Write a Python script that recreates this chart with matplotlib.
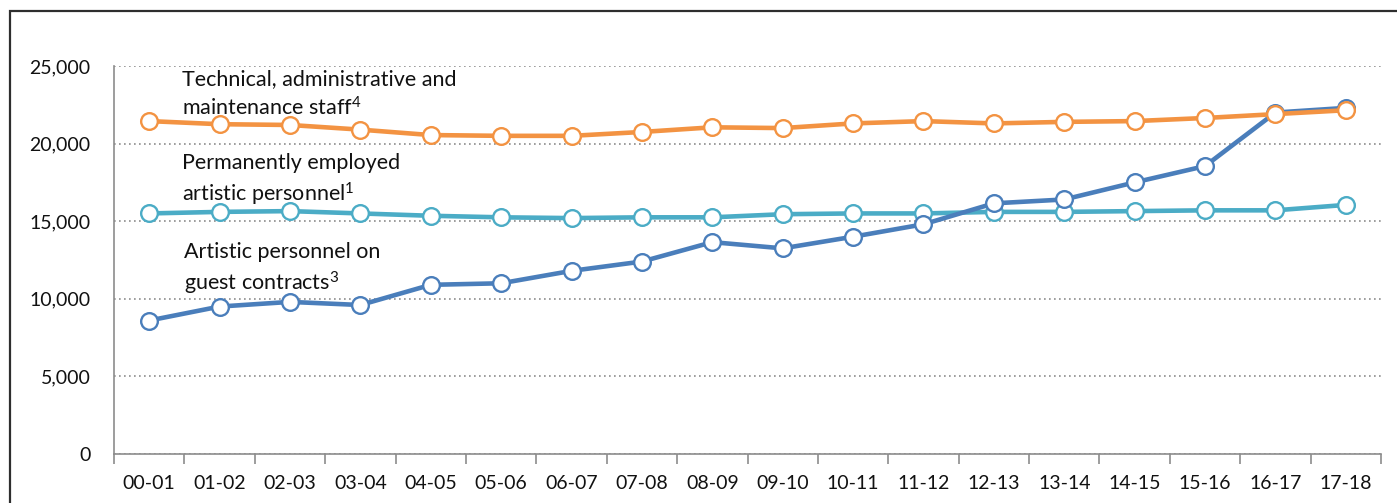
import matplotlib
matplotlib.use("Agg")
import matplotlib.pyplot as plt
import numpy as np
from matplotlib.patches import Rectangle

seasons = ["00-01", "01-02", "02-03", "03-04", "04-05", "05-06", "06-07", "07-08", "08-09",
           "09-10", "10-11", "11-12", "12-13", "13-14", "14-15", "15-16", "16-17", "17-18"]
guest_contracts = [8600, 9500, 9800, 9600, 10900, 11000, 11800, 12400, 13650,
                   13250, 14000, 14800, 16150, 16400, 17500, 18550, 22000, 22300]
technical_staff = [21450, 21250, 21200, 20900, 20550, 20500, 20500, 20750, 21050,
                   21000, 21300, 21450, 21300, 21400, 21450, 21650, 21900, 22150]
permanent_artistic = [15500, 15600, 15650, 15500, 15350, 15250, 15200, 15250, 15250,
                      15450, 15500, 15500, 15600, 15600, 15650, 15700, 15700, 16050]
y_ticks = [0, 5000, 10000, 15000, 20000, 25000]

FONT = ["Lato", "DejaVu Sans"]
plt.rcParams["font.family"] = FONT
plt.rcParams["mathtext.fontset"] = "custom"
plt.rcParams["mathtext.rm"] = "Lato"
plt.rcParams["mathtext.it"] = "Lato:italic"
plt.rcParams["mathtext.bf"] = "Lato:bold"
plt.rcParams["mathtext.default"] = "rm"

fig = plt.figure(figsize=(13.97, 5.03), dpi=100)
ax = fig.add_axes([114/1397, 1-454/503, (1381-114)/1397, (454-66)/503])

# outer frame (cropped at right and bottom)
fig.patches.append(Rectangle((10/1397, -0.2), 1.2, 1.2 - 11/503, transform=fig.transFigure,
                             fill=False, edgecolor="#2e2e2e", linewidth=1.6, zorder=0))

x = np.arange(len(seasons))
c_blue = "#4a7ebb"
c_orange = "#f39342"
c_teal = "#4bacc6"
mk = dict(marker="o", markersize=12, markerfacecolor="white", markeredgewidth=1.7, linewidth=3.3)
ax.plot(x, permanent_artistic, color=c_teal, markeredgecolor=c_teal, zorder=3, **mk)
ax.plot(x, guest_contracts, color=c_blue, markeredgecolor=c_blue, zorder=4, **mk)
ax.plot(x, technical_staff, color=c_orange, markeredgecolor=c_orange, zorder=5, **mk)

ax.set_xlim(-0.5, len(seasons) - 0.5)
ax.set_ylim(0, 25000)
ax.set_yticks(y_ticks)
ax.set_yticklabels([f"{v:,}" for v in y_ticks])
ax.yaxis.grid(True, linestyle=(0, (1, 2)), color="#8c8c8c", linewidth=1.2)
ax.set_axisbelow(True)

ax.set_xticks(x)
ax.set_xticklabels(seasons)
ax.set_xticks(np.arange(-0.5, len(seasons)), minor=True)
ax.tick_params(axis="x", which="major", length=0, pad=15, labelsize=14, labelcolor="#111111")
ax.tick_params(axis="x", which="minor", length=7, width=1.2, color="#8c8c8c", direction="out")
ax.tick_params(axis="y", length=0, pad=17, labelsize=14, labelcolor="#111111")

for s in ["top", "right"]:
    ax.spines[s].set_visible(False)
for s in ["left", "bottom"]:
    ax.spines[s].set_color("#8c8c8c")
    ax.spines[s].set_linewidth(1.2)

def px(xp, yp):
    return ((xp - 114) / (1381 - 114), (454 - yp) / (454 - 66))

lbl = dict(transform=ax.transAxes, fontsize=15.5, color="#111111", va="top", ha="left",
           linespacing=1.38, family=FONT)
ax.text(*px(182, 69), "Technical, administrative and\nmaintenance staff$^{4}$", **lbl)
ax.text(*px(182, 153), "Permanently employed\nartistic personnel$^{1}$", **lbl)
ax.text(*px(184, 242), "Artistic personnel on\nguest contracts$^{3}$", **lbl)

fig.savefig("out.png", dpi=100)
